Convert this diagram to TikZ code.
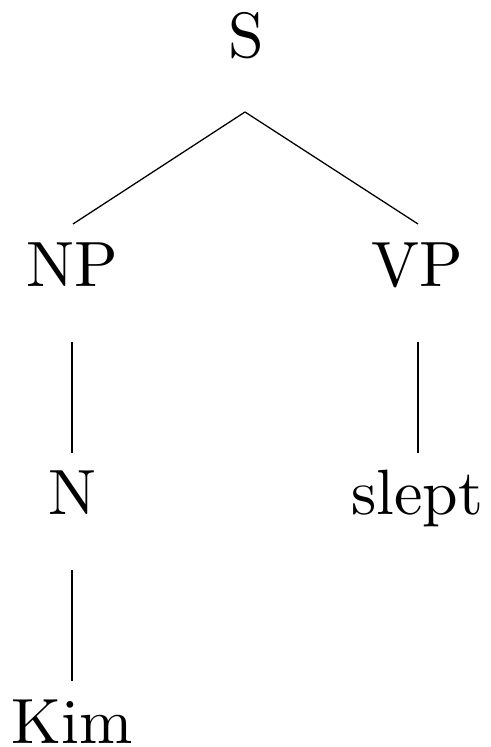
\documentclass[tikz,border=0pt]{standalone}
\usetikzlibrary{calc}
\begin{document}
\begin{tikzpicture}[x=0.15625pt, y=-0.15625pt,
  lbl/.style={anchor=base, inner sep=0pt, font=\fontsize{10}{12}\selectfont},
  edge/.style={line width=0.2pt}]
\useasboundingbox (0,0) rectangle (490,747);
\node[lbl] (S) at (246,58) {S};
\node[lbl] (NP) at (72,287) {NP};
\node[lbl] (VP) at (417,287) {VP};
\node[lbl] (N) at (72,515) {N};
\node[lbl] (slept) at (417,515) {slept};
\node[lbl] (Kim) at (72,743) {Kim};
\draw[edge] ($(S.base)+(-1,54)$) -- ($(NP.base)+(1,-63)$);
\draw[edge] ($(S.base)+(-1,54)$) -- ($(VP.base)+(1,-63)$);
\draw[edge] ($(NP.base)+(0,55)$) -- ($(N.base)+(0,-62)$);
\draw[edge] ($(VP.base)+(1,55)$) -- ($(slept.base)+(1,-62)$);
\draw[edge] ($(N.base)+(0,55)$) -- ($(Kim.base)+(0,-62)$);
\end{tikzpicture}
\end{document}
